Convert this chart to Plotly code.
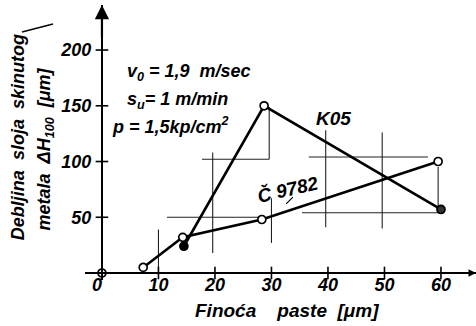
import plotly.graph_objects as go

# ---- data ----
c_label = "Č 9782"
c_x = [7.3, 14.3, 28.3, 59.5]
c_y = [5, 32, 48, 100]

k_label = "K05"
k_x = [14.5, 28.7, 60]
k_y = [24, 150, 57]

origin_x = [0]
origin_y = [0]

# guide (range) lines
gv_x = [10, 19.6, 29.6, 30.0, 39.6, 49.6, 59.5]
gv_y0 = [3, 18, 102, 27, 41, 40, 58]
gv_y1 = [39, 108, 149, 67, 128, 126, 95]

gh_y = [50, 102, 104, 54]
gh_x0 = [11.5, 17.7, 36.6, 35.4]
gh_x1 = [28.3, 29.6, 57.7, 59.8]

x_ticks = [0, 10, 20, 30, 40, 50, 60]
x_ticktext = ["0\u00a0\u00a0", "10", "20", "30", "40", "50", "60"]
y_ticks = [50, 100, 150, 200]
y_ticktext = ["50", "100", "150", "200"]

cond_lines = ["v<sub>0</sub> = 1,9  m/sec", "s<sub>u</sub>= 1 m/min", "p = 1,5kp/cm<sup>2</sup>"]
cond_x = [4.1, 4.1, 1.4]
cond_y = [180, 155, 132]

FONT = "Liberation Sans"
NB = "\u00a0"
W = "bold"

fig = go.Figure()

# guide lines as segments
vx, vy = [], []
for x, a, b in zip(gv_x, gv_y0, gv_y1):
    vx += [x, x, None]
    vy += [a, b, None]
hx, hy = [], []
for y, a, b in zip(gh_y, gh_x0, gh_x1):
    hx += [a, b, None]
    hy += [y, y, None]
fig.add_trace(go.Scatter(x=vx + hx, y=vy + hy, mode="lines",
                         line=dict(color="#222", width=1.1),
                         hoverinfo="skip", showlegend=False))

# crossing tick marks on the axes
fig.add_trace(go.Scatter(x=x_ticks[1:], y=[0] * (len(x_ticks) - 1), mode="markers",
                         marker=dict(symbol="line-ns", size=9,
                                     line=dict(color="black", width=1.6)),
                         cliponaxis=False, hoverinfo="skip", showlegend=False))
fig.add_trace(go.Scatter(x=[0] * len(y_ticks), y=y_ticks, mode="markers",
                         marker=dict(symbol="line-ew", size=9,
                                     line=dict(color="black", width=1.6)),
                         cliponaxis=False, hoverinfo="skip", showlegend=False))

# series
fig.add_trace(go.Scatter(x=c_x, y=c_y, mode="lines+markers", name=c_label,
                         line=dict(color="black", width=2.6),
                         marker=dict(symbol="circle", size=8, color="white",
                                     line=dict(color="black", width=1.7)),
                         cliponaxis=False, showlegend=False))
fig.add_trace(go.Scatter(x=k_x, y=k_y, mode="lines+markers", name=k_label,
                         line=dict(color="black", width=2.6),
                         marker=dict(symbol="circle", size=8,
                                     color=["black", "white", "#333"],
                                     line=dict(color="black", width=1.7)),
                         cliponaxis=False, showlegend=False))
fig.add_trace(go.Scatter(x=origin_x, y=origin_y, mode="markers",
                         marker=dict(symbol="circle", size=8, color="white",
                                     line=dict(color="black", width=1.7)),
                         cliponaxis=False, showlegend=False))


def f(size):
    return dict(family=FONT, size=size, style="italic", weight=W, color="black")


ann = []
for t, x, y in zip(cond_lines, cond_x, cond_y):
    ann.append(dict(x=x, y=y, xref="x", yref="y", text=t, showarrow=False,
                    xanchor="left", yanchor="middle", font=f(18)))
ann.append(dict(x=41, y=139, xref="x", yref="y", text=k_label, showarrow=False,
                font=f(19)))
ann.append(dict(x=33.0, y=75, xref="x", yref="y", text=c_label, showarrow=False,
                textangle=-13, font=f(19)))
# axis titles
ann.append(dict(x=(287 - 85) / 391, y=(280 - 310) / 275, xref="paper", yref="paper",
                text="Finoća" + NB * 4 + "paste" + NB * 2 + "[μm]", showarrow=False,
                xanchor="center", yanchor="middle", font=f(19)))
ann.append(dict(x=-0.171, y=0.52, xref="paper", yref="paper", textangle=-90,
                text="Debljina" + NB * 2 + "sloja" + NB * 2 + "skinutog", showarrow=False,
                xanchor="center", yanchor="middle", font=f(18)))
ann.append(dict(x=-0.102, y=0.475, xref="paper", yref="paper", textangle=-90,
                text="metala" + NB * 2 + "ΔH<sub>100</sub>" + NB * 2 + "[μm]", showarrow=False,
                xanchor="center", yanchor="middle", font=f(18)))
# axis arrows
ann.append(dict(x=0, y=240.4, xref="x", yref="y", ax=0, ay=34, axref="pixel", ayref="pixel",
                text="", showarrow=True, arrowhead=2, arrowsize=1.3, arrowwidth=2.2,
                arrowcolor="black"))
ann.append(dict(x=66.2, y=0, xref="x", yref="y", ax=-32, ay=0,
                text="", showarrow=True, arrowhead=2, arrowsize=1.0, arrowwidth=1.5,
                arrowcolor="black"))

shapes = [
    # leader for Č 9782
    dict(type="line", xref="x", yref="y", x0=32.6, y0=62, x1=33.8, y1=68,
         line=dict(color="black", width=1.2)),
    # pen stroke near y title
    dict(type="line", xref="paper", yref="paper",
         x0=(22 - 85) / 391, y0=(280 - 32) / 275, x1=(53 - 85) / 391, y1=(280 - 24) / 275,
         line=dict(color="black", width=1.4)),
]

fig.update_layout(
    width=476, height=326,
    margin=dict(l=85, r=0, t=5, b=46),
    paper_bgcolor="white", plot_bgcolor="white",
    font=f(18),
    annotations=ann, shapes=shapes,
    xaxis=dict(range=[-3, 66.2], anchor="free", position=7 / 275,
               showline=True, linecolor="black", linewidth=2,
               ticks="", ticklabelstandoff=-5,
               tickvals=x_ticks, ticktext=x_ticktext,
               tickfont=f(18),
               showgrid=False, zeroline=False),
    yaxis=dict(range=[-6.28, 240.4], anchor="free", position=17 / 391,
               showline=True, linecolor="black", linewidth=2,
               ticks="", ticklabelstandoff=6,
               tickvals=y_ticks, ticktext=y_ticktext,
               tickfont=f(18),
               showgrid=False, zeroline=False),
)

fig.write_html("out.html")
